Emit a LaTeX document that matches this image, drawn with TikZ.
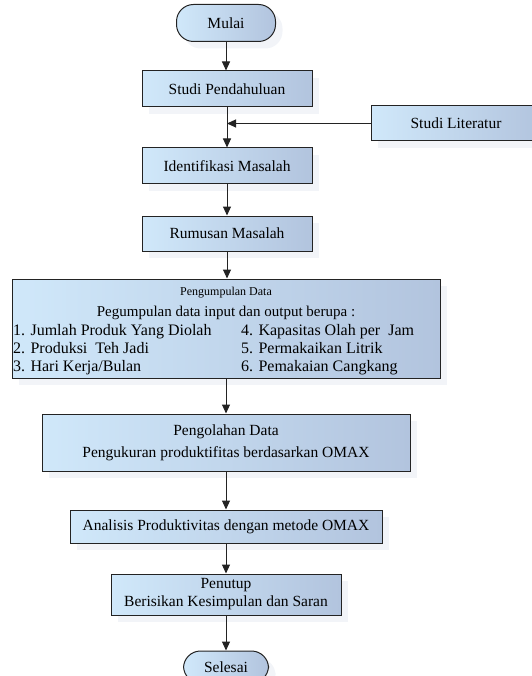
\documentclass[tikz,border=0pt]{standalone}
\usepackage{fontspec}
\setmainfont{Liberation Serif}
\usetikzlibrary{arrows.meta,shadows,positioning}
\definecolor{boxlight}{RGB}{208,232,250}
\definecolor{boxdark}{RGB}{178,196,222}
\definecolor{shadowgray}{RGB}{242,244,248}
\definecolor{edgegray}{RGB}{35,35,35}

\begin{document}
\begin{tikzpicture}
    [ x=1pt, y=-1pt,
      font={\fontsize{15.5}{18}\selectfont},
      process/.style={draw=edgegray, line width=1pt, left color=boxlight,
                      right color=boxdark, inner sep=0pt, align=center,
                      drop shadow={shadow xshift=7pt, shadow yshift=-7pt,
                                   fill=shadowgray, opacity=1}},
      terminal/.style={process, rounded corners=17pt},
      item/.style={anchor=base west, inner sep=0pt,
                   font={\fontsize{16}{18}\selectfont}},
      flow/.style={draw=edgegray, line width=1pt,
                   -{Triangle[width=8pt,length=9pt]}}
    ]
    \useasboundingbox (0, 0) rectangle (531, 676);

    % Start and end
    \node[terminal, minimum width=99pt, minimum height=37pt] (mulai)
        at (226, 23) {Mulai};
    \node[terminal, minimum width=85pt, minimum height=32pt] (selesai)
        at (226, 667) {Selesai};

    % Steps
    \node[process, minimum width=170pt, minimum height=36pt] (pendahuluan)
        at (227, 89) {Studi Pendahuluan};
    \node[process, minimum width=170pt, minimum height=35pt] (literatur)
        at (456, 123.5) {Studi Literatur};
    \node[process, minimum width=170pt, minimum height=36pt] (identifikasi)
        at (227, 166) {Identifikasi Masalah};
    \node[process, minimum width=170pt, minimum height=35pt] (rumusan)
        at (227, 233.5) {Rumusan Masalah};
    \node[process, minimum width=428pt, minimum height=99pt] (pengumpulan)
        at (226, 328.5) {};
    \node[process, minimum width=368pt, minimum height=57pt] (pengolahan)
        at (226, 442.5) {Pengolahan Data\\[4pt]
                         Pengukuran produktifitas berdasarkan OMAX};
    \node[process, minimum width=312pt, minimum height=33pt] (analisis)
        at (226, 526.5) {Analisis Produktivitas dengan metode OMAX};
    \node[process, minimum width=230pt, minimum height=41pt] (penutup)
        at (226, 594.5) {Penutup\\ Berisikan Kesimpulan dan Saran};

    % Data collection text
    \node[inner sep=0pt, font={\fontsize{12}{14}\selectfont}] (judul)
        at (226, 293) {Pengumpulan Data};
    \node[inner sep=0pt, font={\fontsize{15}{18}\selectfont}] (berupa)
        at (226, 313) {Pegumpulan data input dan output berupa :};
    \node[item] (item1) at (13, 335) {1. Jumlah Produk Yang Diolah};
    \node[item] (item2) at (13, 353) {2. Produksi\ \ Teh Jadi};
    \node[item] (item3) at (13, 371) {3. Hari Kerja/Bulan};
    \node[item] (item4) at (241, 335) {4. Kapasitas Olah per\ \ Jam};
    \node[item] (item5) at (241, 353) {5. Permakaikan Litrik};
    \node[item] (item6) at (241, 371) {6. Pemakaian Cangkang};

    % Connectors
    \coordinate (gabung) at (pendahuluan.south |- literatur.west);
    \draw[flow] (mulai) -- (mulai |- pendahuluan.north);
    \draw[flow] (pendahuluan) -- (identifikasi);
    \draw[flow] (literatur) -- (gabung);
    \draw[flow] (identifikasi) -- (rumusan);
    \draw[flow] (rumusan) -- (rumusan |- pengumpulan.north);
    \draw[flow] (pengumpulan) -- (pengolahan);
    \draw[flow] (pengolahan) -- (analisis);
    \draw[flow] (analisis) -- (penutup);
    \draw[flow] (penutup) -- (selesai);

\end{tikzpicture}
\end{document}
